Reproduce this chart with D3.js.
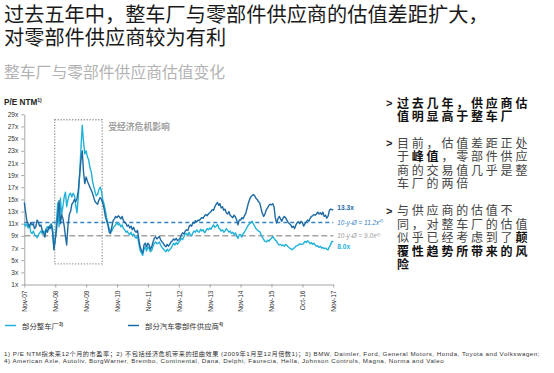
<!DOCTYPE html>
<html lang="zh">
<head>
<meta charset="UTF-8">
<title>整车厂与零部件供应商估值变化</title>
<script src="https://d3js.org/d3.v7.min.js"></script>
<style>
    body { margin: 0; background: #fff; }
    svg { display: block; font-family: "Liberation Sans", Arial, "Noto Sans CJK SC", sans-serif; }
    .cjk { font-family: "Noto Sans CJK SC", sans-serif; }
    .axis text { font-size: 6.6px; fill: #333; font-family: "Liberation Sans", Arial, sans-serif; }
    .axis path, .axis line { stroke: #8f8f8f; stroke-width: 0.8; }
</style>
</head>
<body>
<svg id="chart" width="554" height="373"></svg>
<script>
// x-axis labels, one per year (Nov-07 ... Nov-17)
const tickLabels = ["Nov-07", "Nov-08", "Nov-09", "Nov-10", "Nov-11", "Nov-12",
                    "Nov-13", "Nov-14", "Nov-15", "Oct-16", "Nov-17"];
const yTicks = [1, 3, 5, 7, 9, 11, 13, 15, 17, 19, 21, 23, 25, 27, 29];

// P/E NTM, two readings per month from Nov-07, one row per year
const oemPE = [
    11, 10.6, 11, 10.3, 10.8, 9.6, 9.4, 9.8, 9.2, 9, 8.7, 9.2, 9.5, 9.8, 9.3, 9.8, 9.5, 10.2, 10.5, 10, 10.8, 11, 10.2, 7,
    8.2, 11.5, 14.5, 10.5, 15.2, 12.5, 14, 15.5, 16.2, 13.8, 15, 15.8, 16, 15.4, 16, 15.6, 14, 12.8, 15.5, 19, 23.5, 27.2, 24.5, 22.5,
    23, 22, 21.5, 20.2, 19.5, 18, 17, 16.2, 15.6, 15.8, 16.6, 17, 16.4, 15, 14.2, 13.2, 12, 11, 10.2, 9.6, 9.8, 10.3, 10.6, 10.8,
    11.2, 10.8, 11, 10.5, 10.8, 10.2, 10, 9.6, 9.8, 9.4, 9.2, 9.6, 9, 9.3, 8.8, 8.6, 9, 7.8, 6.6, 6.2, 5.8, 6.8, 7.2, 6.5,
    7.2, 6.9, 6.4, 6.6, 7.3, 7.8, 8, 7.7, 7.8, 8, 7.4, 7.1, 6.9, 6.6, 6.4, 6.8, 6.5, 6.7, 7, 7.4, 7.8, 7.5, 7.9, 7.6,
    8, 8.2, 8.6, 8.4, 8.9, 9.3, 9.4, 9.1, 9.6, 9.2, 9, 9.5, 9.8, 9.6, 10, 9.7, 9.6, 10.1, 9.8, 10, 9.5, 9.8, 10.2, 10,
    10.3, 10.1, 10.5, 10.8, 10.4, 10.6, 10.9, 10.3, 10.1, 9.8, 10, 9.6, 9.8, 10.2, 9.9, 9.6, 9.8, 9.4, 9.6, 9.2, 9.5, 9, 8.6, 9.2,
    9.2, 8.8, 9.4, 9.6, 10, 10.4, 10.8, 11, 11.2, 11.4, 11, 10.6, 10.2, 10, 9.8, 9.7, 9.2, 8.8, 8.4, 8.1, 8, 8.3, 8.1, 8.4,
    8.6, 8.9, 8.6, 8.3, 8.1, 7.7, 7.5, 7.6, 7.4, 7.5, 7.3, 7.6, 7.4, 7.2, 7, 6.9, 6.7, 6.9, 7.1, 7.3, 7.4, 7.5, 7.7, 7.6,
    7.6, 7.8, 8.1, 7.9, 8.2, 8, 7.7, 7.9, 7.6, 7.8, 7.5, 7.3, 7.4, 7.1, 7.3, 7, 7.1, 6.9, 7, 6.8, 6.7, 7.2, 7.6, 8.1,
    8.0
];
const supplierPE = [
    14.5, 13, 11.5, 11, 10.5, 11.2, 10.8, 11, 10.2, 10.5, 11.6, 11.2, 10.6, 10.8, 9.8, 9.5, 8.8, 10, 9.6, 10.5, 10.2, 10.8, 9.5, 6.7,
    8.5, 10, 12.5, 14.8, 11, 12.5, 11.8, 10.5, 9, 7.5, 10.8, 12.5, 13, 14.2, 14.5, 15, 14.6, 15.2, 16.5, 19, 21.5, 23, 19.5, 17.6,
    18.7, 18, 17.5, 17, 16.5, 16, 15.2, 14.6, 14.4, 14.2, 14.9, 15.3, 15, 14.4, 13.5, 12.2, 11.5, 10.8, 9.6, 9.4, 10.5, 11.5, 11.8, 12.2,
    12, 12.3, 12.1, 11.8, 12.2, 11.5, 11.2, 11, 10.6, 10.8, 10.3, 10.6, 10, 10.4, 9.8, 9.6, 9.9, 8.5, 7.2, 6.6, 6.2, 7.5, 7.8, 7.2,
    7.8, 7.5, 6.8, 7.2, 8, 8.6, 8.8, 8.5, 8.7, 8.9, 8.3, 8, 7.8, 7.4, 7.2, 7.6, 7.3, 7.6, 8, 8.2, 8.5, 8.3, 8.6, 8.2,
    8.4, 8.6, 9.2, 9.5, 9.3, 9.8, 10, 9.9, 10.5, 10.8, 10.6, 11.2, 11.1, 11.5, 11.3, 11.6, 11.5, 11.8, 12, 11.9, 12.3, 12.5, 12.3, 12.6,
    12.8, 13, 13.3, 13.2, 13.8, 14.2, 14.5, 14, 14.3, 13.6, 13.8, 13.2, 13.4, 12.8, 12.6, 13, 12.4, 12.2, 12, 12.4, 12.1, 11.6, 10.8, 11.6,
    11.6, 12, 11.8, 12.3, 12.7, 13.5, 14.4, 15, 15.4, 15.6, 15.8, 15.6, 15.2, 15, 14.6, 14.4, 13.5, 12.7, 12.2, 12.6, 13.3, 13.6, 14, 14.2,
    14.1, 14.3, 13.8, 12, 11.1, 11.8, 12.2, 11.8, 11.4, 11.9, 12.2, 12, 11.6, 11.2, 11, 10.8, 10.4, 10.6, 10.2, 10.8, 11.2, 11.3, 11, 11.4,
    11.2, 10.6, 11, 11.3, 11.6, 11.4, 11.9, 12.2, 12.3, 12.5, 12.4, 12.6, 12.9, 12.6, 12.8, 12.5, 12.9, 12.2, 12.4, 11.9, 12.3, 13.2, 13.4, 13.3,
    13.3
];

// 10-year averages (excluding crisis multiples)
const oemAvg = 9.0;
const supplierAvg = 11.2;

// crisis period marked by the dotted frame
const crisisStart = new Date(2008, 9, 25);
const crisisEnd = new Date(2010, 4, 10);
const crisisRange = [4.4, 28.1];

const colors = { oem: "#22b2d8", supplier: "#1e6aa2", supplierAvg: "#3383c4", oemAvg: "#a3a3a3" };

const svg = d3.select("#chart");

// titles
svg.append("text").attr("class", "cjk").attr("x", 4).attr("y", 21.5)
    .attr("font-size", 20.2).attr("fill", "#1a1a1a")
    .text("过去五年中，整车厂与零部件供应商的估值差距扩大，");
svg.append("text").attr("class", "cjk").attr("x", 4).attr("y", 44.5)
    .attr("font-size", 20.2).attr("fill", "#1a1a1a")
    .text("对零部件供应商较为有利");
svg.append("text").attr("class", "cjk").attr("x", 4).attr("y", 78)
    .attr("font-size", 15.8).attr("fill", "#b3b3b3")
    .text("整车厂与零部件供应商估值变化");

// scales
const dateOf = i => new Date(2007, 10 + Math.floor(i / 2), i % 2 ? 16 : 1);
const tickDates = tickLabels.map((d, i) => new Date(2007 + i, 10, 1));

const x = d3.scaleTime()
    .domain([new Date(2007, 10, 1), new Date(2017, 10, 1)])
    .range([24.3, 333.3]);
const y = d3.scaleLinear()
    .domain([1, 29])
    .range([284.5, 114.3]);

// axes
svg.append("g").attr("class", "axis")
    .attr("transform", `translate(${x.range()[0]},0)`)
    .call(d3.axisLeft(y).tickValues(yTicks).tickFormat(d => d + "x").tickSize(3).tickSizeOuter(0).tickPadding(3));

const xAxis = svg.append("g").attr("class", "axis")
    .attr("transform", `translate(0,${y(1)})`)
    .call(d3.axisBottom(x).tickValues(tickDates).tickFormat((d, i) => tickLabels[i]).tickSize(3).tickSizeOuter(0));
xAxis.selectAll("text")
    .attr("transform", "rotate(-90)")
    .attr("text-anchor", "end")
    .attr("x", -6).attr("y", 0).attr("dy", "0.35em");

// y label
const yLabel = svg.append("text").attr("x", 4).attr("y", 105)
    .attr("font-size", 8.2).attr("font-weight", "bold").attr("fill", "#222");
yLabel.append("tspan").text("P/E NTM");
yLabel.append("tspan").attr("font-size", 5).attr("dy", -3).text("1)");

// averages
svg.append("line")
    .attr("x1", x.range()[0]).attr("x2", x.range()[1])
    .attr("y1", y(oemAvg)).attr("y2", y(oemAvg))
    .attr("stroke", colors.oemAvg).attr("stroke-width", 1.5).attr("stroke-dasharray", "6,3");
svg.append("line")
    .attr("x1", x.range()[0]).attr("x2", x.range()[1])
    .attr("y1", y(supplierAvg)).attr("y2", y(supplierAvg))
    .attr("stroke", colors.supplierAvg).attr("stroke-width", 1.3).attr("stroke-dasharray", "4,3");

// crisis frame
svg.append("rect")
    .attr("x", x(crisisStart)).attr("y", y(crisisRange[1]))
    .attr("width", x(crisisEnd) - x(crisisStart))
    .attr("height", y(crisisRange[0]) - y(crisisRange[1]))
    .attr("fill", "none").attr("stroke", "#9a9a9a")
    .attr("stroke-width", 1.3).attr("stroke-dasharray", "1.3,1.6");
svg.append("text").attr("class", "cjk")
    .attr("x", x(crisisEnd) + 6).attr("y", y(crisisRange[1]) + 10.5)
    .attr("font-size", 8.8).attr("font-weight", "bold").attr("fill", "#a0a0a0")
    .text("受经济危机影响");

// lines
const line = d3.line().x((d, i) => x(dateOf(i))).y(d => y(d));
svg.append("path").datum(oemPE)
    .attr("d", line).attr("fill", "none")
    .attr("stroke", colors.oem).attr("stroke-width", 1.4).attr("stroke-linejoin", "round");
svg.append("path").datum(supplierPE)
    .attr("d", line).attr("fill", "none")
    .attr("stroke", colors.supplier).attr("stroke-width", 1.4).attr("stroke-linejoin", "round");

// end labels
const endX = x.range()[1] + 4;
svg.append("text").attr("x", endX).attr("y", y(supplierPE[supplierPE.length - 1]) + 0.5)
    .attr("font-size", 6.6).attr("font-weight", "bold").attr("fill", colors.supplier)
    .text(supplierPE[supplierPE.length - 1].toFixed(1) + "x");
svg.append("text").attr("x", endX).attr("y", y(oemPE[oemPE.length - 1]) + 7.5)
    .attr("font-size", 6.6).attr("font-weight", "bold").attr("fill", colors.oem)
    .text(oemPE[oemPE.length - 1].toFixed(1) + "x");

function avgLabel(value, color) {
    const t = svg.append("text").attr("x", endX).attr("y", y(value) + 2.3)
        .attr("font-size", 6.4).attr("font-style", "italic").attr("fill", color);
    t.append("tspan").text("10-y-Ø = " + value.toFixed(1) + "x");
    t.append("tspan").attr("font-size", 4.4).attr("dy", -2.6).text("2)");
}
avgLabel(supplierAvg, colors.supplierAvg);
avgLabel(oemAvg, "#999");

// legend
const legendItems = [
    { label: "部分整车厂", note: "3)", color: colors.oem, x: 5 },
    { label: "部分汽车零部件供应商", note: "4)", color: colors.supplier, x: 128 }
];
legendItems.forEach(d => {
    svg.append("line").attr("x1", d.x).attr("x2", d.x + 11)
        .attr("y1", 325.5).attr("y2", 325.5)
        .attr("stroke", d.color).attr("stroke-width", 1.5);
    const t = svg.append("text").attr("x", d.x + 17).attr("y", 328.5)
        .attr("font-size", 7.4).attr("fill", "#333");
    t.append("tspan").attr("class", "cjk").text(d.label);
    t.append("tspan").attr("font-size", 4.5).attr("dy", -3).attr("font-weight", "bold").text(d.note);
});

// bullet points on the right
const bullets = [
    { y: 107.5, lines: [[["过去几年，供应商估", true]], [["值明显高于整车厂", true]]] },
    { y: 147.5, lines: [[["目前，估值差距正处", false]],
                        [["于", false], ["峰值", true], ["，零部件供应", false]],
                        [["商的交易值几乎是整", false]],
                        [["车厂的两倍", false]]] },
    { y: 215, lines: [[["与供应商的估值不", false]],
                      [["同，对整车厂的估值", false]],
                      [["似乎已经考虑到了", false], ["颠", true]],
                      [["覆性趋势所带来的风", true]],
                      [["险", true]]] }
];
bullets.forEach(b => {
    svg.append("text").attr("x", 386).attr("y", b.y - 0.5)
        .attr("font-size", 11).attr("font-weight", "bold").attr("fill", "#222").text(">");
    b.lines.forEach((segs, li) => {
        const t = svg.append("text").attr("class", "cjk")
            .attr("x", 397).attr("y", b.y + li * 13.6)
            .attr("font-size", 12).attr("letter-spacing", 2.8).attr("fill", "#333");
        segs.forEach(([s, bold]) => {
            t.append("tspan").attr("font-weight", bold ? "bold" : "normal")
                .attr("fill", bold ? "#111" : "#444").text(s);
        });
    });
});

// footnotes: first line spread to the page width, second line uses the same spacing
const notes = [
    "1) P/E NTM指未来12个月的市盈率；2) 不包括经济危机带来的扭曲效果 (2009年1月至12月倍数1)；3) BMW, Daimler, Ford, General Motors, Honda, Toyota and Volkswagen;",
    "4) American Axle, Autoliv, BorgWarner, Brembo, Continental, Dana, Delphi, Faurecia, Hella, Johnson Controls, Magna, Norma and Valeo"
];
const noteNodes = notes.map((n, i) => svg.append("text").attr("x", 4).attr("y", 356 + i * 7.2)
    .attr("font-size", 6.2).attr("fill", "#333").text(n));
const natural = noteNodes[0].node().getComputedTextLength();
const extra = Math.max(0, (536 - natural) / notes[0].length);
noteNodes.forEach(t => t.attr("letter-spacing", extra));
</script>
</body>
</html>
